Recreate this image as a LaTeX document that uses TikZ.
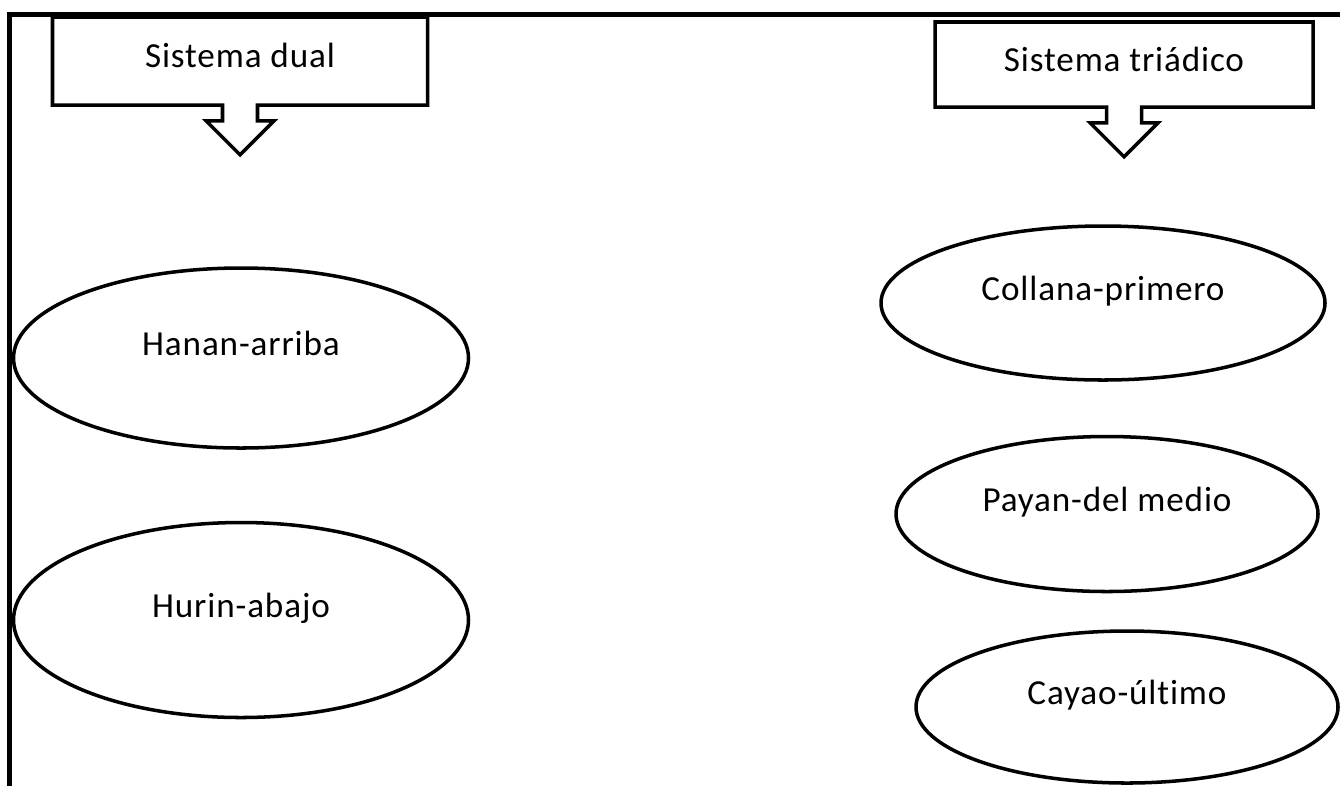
\documentclass[tikz,border=0pt]{standalone}
\usepackage{fontspec}
\setmainfont{Carlito}[LetterSpace=2.5, Ligatures=NoCommon]
\usetikzlibrary{shapes.geometric, shapes.arrows, positioning}
\tikzset{
every node/.style={font=\fontsize{20}{24}\selectfont}, % same text size everywhere
titlebox/.style={draw, line width=2pt, arrow box, arrow box arrows={south:0.96cm},
  arrow box shaft width=0.7cm, arrow box head extend=0.33cm, arrow box head indent=0cm,
  arrow box tip angle=90, inner sep=0pt,
  text height=0.48cm, text depth=0.22cm}, % title box with the open arrow under it
part/.style={draw, ellipse, line width=2pt, inner sep=0pt,
  text height=0.5cm, text depth=0.6cm}, % ellipses, text sits a bit high as in the original
frame/.style={line width=2.6pt}, % the two border lines
}

\begin{document}
\begin{tikzpicture}
        \useasboundingbox (0,0) rectangle (26.8,-15.72);
        \draw[frame] (0.19,-15.72) -- (0.19,-0.29) -- (26.8,-0.29);

        % titles
        \node[titlebox, minimum width=7.5cm, minimum height=1.76cm] (dual) at (4.8,-1.22) {Sistema dual};
        \node[titlebox, minimum width=7.56cm, minimum height=1.7cm] (triad) at (22.48,-1.29) {Sistema triádico};

        % left side
        \node[part, minimum width=9.1cm, minimum height=3.6cm] (hanan) at (4.82,-7.16) {Hanan-arriba};
        \node[part, minimum width=9.1cm, minimum height=3.9cm, below of=hanan, node distance=5.24cm] (hurin) {Hurin-abajo};

        % right side
        \node[part, minimum width=8.88cm, minimum height=3.08cm] (collana) at (22.06,-6.06) {Collana-primero};
        \node[part, minimum width=8.44cm, minimum height=3.1cm, below of=collana, node distance=4.22cm, xshift=0.08cm] (payan) {Payan-del medio};
        \node[part, minimum width=8.44cm, minimum height=3.04cm, below of=payan, node distance=3.86cm, xshift=0.4cm] (cayao) {Cayao-último};
      \end{tikzpicture}
\end{document}
